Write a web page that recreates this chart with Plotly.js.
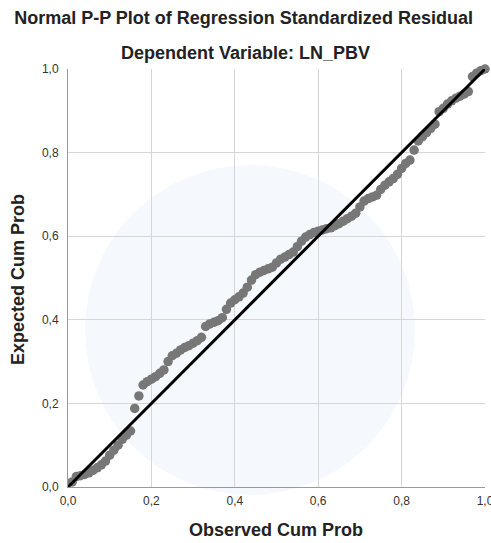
<!DOCTYPE html>
<html>
<head>
<meta charset="utf-8">
<script src="https://cdn.plot.ly/plotly-3.0.1.min.js"></script>
<style>
html,body{margin:0;padding:0;background:#fff;}
#chart{width:491px;height:543px;}
</style>
</head>
<body>
<div id="chart"></div>
<script>
// Observed cumulative probability (x) and expected cumulative probability (y)
var observedCumProb = [
0.01,0.02,0.03,0.04,0.05,0.06,0.07,0.08,0.09,0.10,
0.11,0.12,0.13,0.14,0.15,0.16,0.17,0.18,0.19,0.20,
0.21,0.22,0.23,0.24,0.25,0.26,0.27,0.28,0.29,0.30,
0.31,0.32,0.33,0.34,0.35,0.36,0.37,0.38,0.39,0.40,
0.41,0.42,0.43,0.44,0.45,0.46,0.47,0.48,0.49,0.50,
0.51,0.52,0.53,0.54,0.55,0.56,0.57,0.58,0.59,0.60,
0.61,0.62,0.63,0.64,0.65,0.66,0.67,0.68,0.69,0.70,
0.71,0.72,0.73,0.74,0.75,0.76,0.77,0.78,0.79,0.80,
0.81,0.82,0.83,0.84,0.85,0.86,0.87,0.88,0.89,0.90,
0.91,0.92,0.93,0.94,0.95,0.96,0.97,0.98,0.99,1.00
];
var expectedCumProb = [
0.012,0.025,0.027,0.030,0.034,0.040,0.046,0.053,0.062,0.076,
0.088,0.100,0.114,0.124,0.134,0.188,0.218,0.244,0.252,0.258,
0.264,0.272,0.280,0.300,0.314,0.320,0.328,0.334,0.338,0.344,
0.350,0.358,0.384,0.390,0.394,0.398,0.405,0.425,0.440,0.448,
0.455,0.464,0.478,0.495,0.508,0.514,0.518,0.522,0.526,0.536,
0.545,0.550,0.556,0.562,0.575,0.588,0.598,0.604,0.609,0.612,
0.615,0.618,0.620,0.625,0.630,0.636,0.642,0.648,0.655,0.670,
0.684,0.690,0.694,0.698,0.712,0.722,0.730,0.738,0.748,0.762,
0.774,0.782,0.806,0.828,0.838,0.848,0.858,0.868,0.898,0.906,
0.916,0.924,0.930,0.935,0.940,0.946,0.982,0.990,0.996,1.000
];
var refLineX = [0, 1];
var refLineY = [0, 1];
var tickVals = [0, 0.2, 0.4, 0.6, 0.8, 1.0];

var fontFam = '"Liberation Sans", Arial, sans-serif';

var traces = [
  {
    type: 'scatter', mode: 'markers',
    x: observedCumProb, y: expectedCumProb,
    marker: {color: '#777777', size: 9.5, line: {width: 0}},
    cliponaxis: false, hoverinfo: 'skip'
  },
  {
    type: 'scatter', mode: 'lines',
    x: refLineX, y: refLineY,
    line: {color: '#000000', width: 3},
    cliponaxis: false, hoverinfo: 'skip'
  }
];

var axisCommon = {
  range: [0, 1],
  tickvals: tickVals,
  tickformat: '.1f',
  showgrid: true,
  gridcolor: '#d6d6d6',
  gridwidth: 1,
  zeroline: false,
  showline: true,
  linecolor: '#9a9a9a',
  linewidth: 1,
  ticks: '',
  ticklabeloverflow: 'allow',
  tickfont: {family: fontFam, size: 12, color: '#333333'},
  fixedrange: true
};

var layout = {
  width: 491, height: 543,
  margin: {l: 68, r: 6, t: 69, b: 56, pad: 0},
  paper_bgcolor: '#ffffff',
  plot_bgcolor: 'rgba(0,0,0,0)',
  separators: ',.',
  showlegend: false,
  font: {family: fontFam, color: '#222222'},
  title: {
    text: '<b>Normal P-P Plot of Regression Standardized Residual</b>',
    font: {family: fontFam, size: 18, color: '#222222'},
    xref: 'container', x: 0.496, xanchor: 'center',
    yref: 'container', y: 1 - 18/543, yanchor: 'middle'
  },
  xaxis: Object.assign({}, axisCommon, {ticklabelstandoff: 3}),
  yaxis: Object.assign({}, axisCommon, {ticklabelstandoff: 6}),
  shapes: [
    {
      type: 'circle', layer: 'below',
      xref: 'paper', yref: 'paper',
      x0: (85 - 68) / 417, x1: (415 - 68) / 417,
      y0: (487 - 495) / 418, y1: (487 - 165) / 418,
      fillcolor: 'rgba(228,238,252,0.38)', line: {width: 0}
    }
  ],
  annotations: [
    {
      text: '<b>Dependent Variable: LN_PBV</b>',
      xref: 'paper', yref: 'paper',
      x: (245 - 68) / 417, y: (487 - 53) / 418,
      xanchor: 'center', yanchor: 'middle', showarrow: false,
      font: {family: fontFam, size: 18, color: '#222222'}
    },
    {
      text: '<b>Observed Cum Prob</b>',
      xref: 'paper', yref: 'paper',
      x: (276 - 68) / 417, y: (487 - 530) / 418,
      xanchor: 'center', yanchor: 'middle', showarrow: false,
      font: {family: fontFam, size: 18, color: '#222222'}
    },
    {
      text: '<b>Expected Cum Prob</b>',
      xref: 'paper', yref: 'paper',
      x: (18 - 68) / 417, y: (487 - 280) / 418,
      xanchor: 'center', yanchor: 'middle', showarrow: false,
      textangle: -90,
      font: {family: fontFam, size: 18, color: '#222222'}
    }
  ]
};

Plotly.newPlot('chart', traces, layout, {staticPlot: true, displayModeBar: false});
</script>
</body>
</html>
